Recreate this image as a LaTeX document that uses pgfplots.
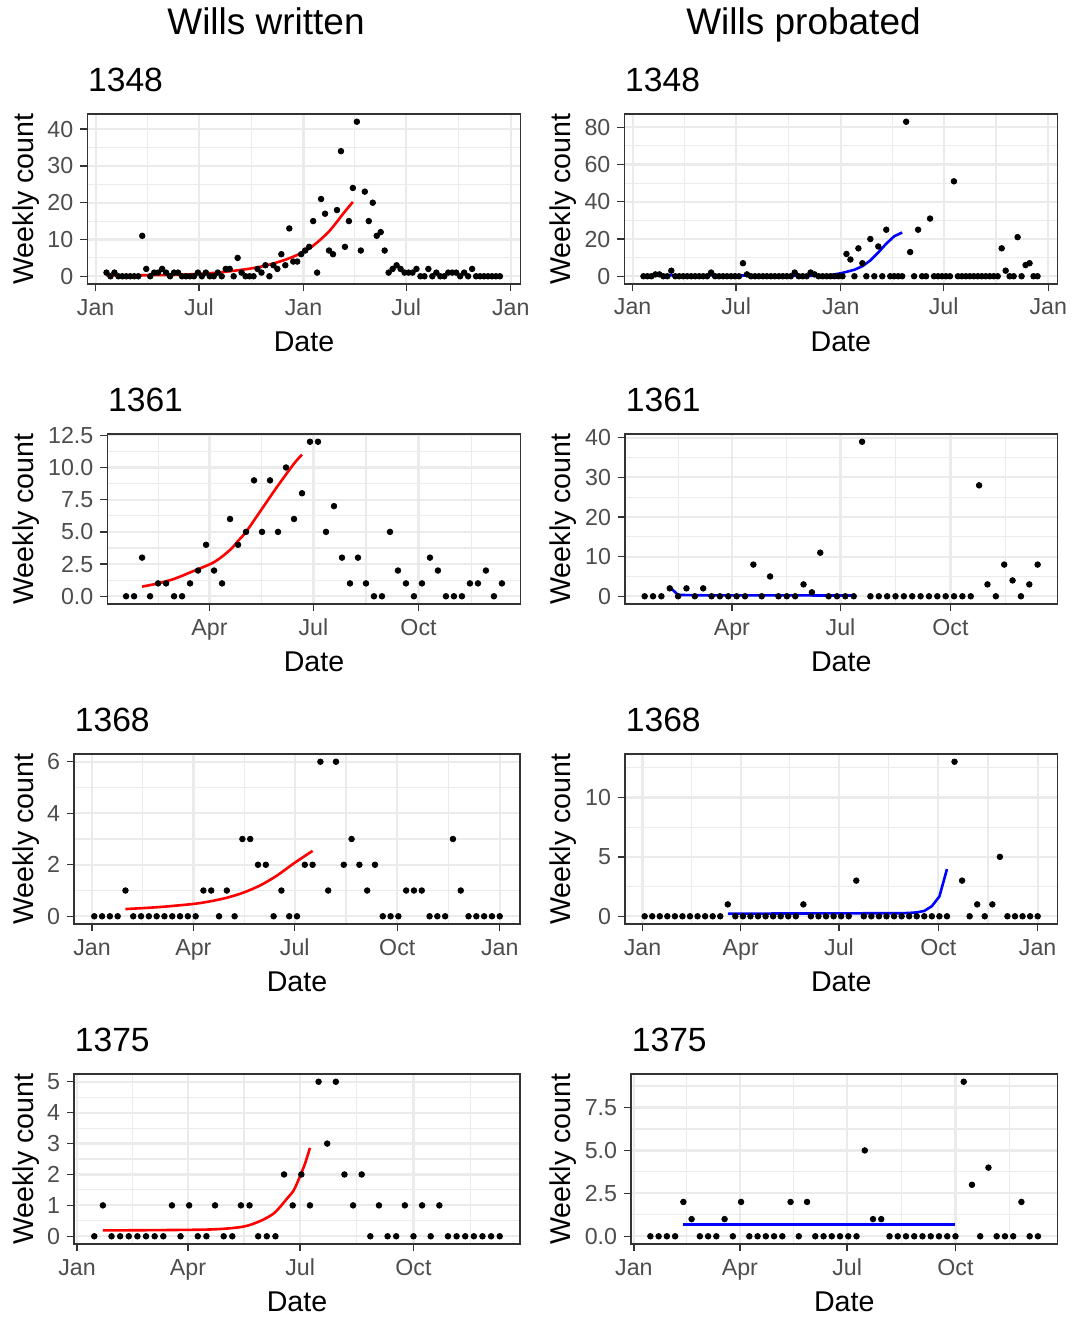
\documentclass[border=0pt]{standalone}
\usepackage{fontspec}
\setmainfont{Liberation Sans}
\usepackage{pgfplots}
\pgfplotsset{compat=1.18}
\definecolor{grey30}{HTML}{4D4D4D}
\definecolor{grey20}{HTML}{333333}
\definecolor{grid92}{HTML}{EBEBEB}
\pgfplotsset{
  panel/.style={
    scale only axis, height=85pt, anchor=north west,
    axis line style={draw=grey20, line width=0.7pt},
    tick align=outside, tick pos=left,
    major tick length=3.6pt, minor tick length=0pt,
    tick style={draw=grey20, line width=0.7pt},
    xmajorgrids=true, ymajorgrids=true, xminorgrids=true, yminorgrids=true,
    major grid style={draw=grid92, line width=1.1pt},
    minor grid style={draw=grid92, line width=0.55pt},
    tick label style={font=\fontsize{11.6}{13}\selectfont, text=grey30, inner sep=0pt},
    xticklabel style={anchor=base, yshift=-11.9pt},
    yticklabel style={anchor=east, xshift=-3.2pt},
    /pgf/number format/assume math mode=true,
  },
  pts/.style={only marks, mark=*, mark size=1.4pt, mark options={fill=black, draw=none}, black},
  fitR/.style={red, line width=1.3pt, no marks},
  fitB/.style={blue, line width=1.3pt, no marks},
}
\begin{document}
\begin{tikzpicture}
\path[use as bounding box] (0,0) rectangle (535.5pt,-658.5pt);

% ---------- Row 1: 1348 ----------
\begin{axis}[panel, at={(43.65pt,-57pt)}, width=216.7pt,
  xmin=-14.8, xmax=748.6, ymin=-2.1, ymax=44.1,
  xtick={0,182,366,547,731}, xticklabels={Jan,Jul,Jan,Jul,Jan},
  minor xtick={91,274,456.5,639},
  ytick={0,10,20,30,40}, yticklabels={0,10,20,30,40},
  minor ytick={5,15,25,35}]
\addplot[pts] coordinates {
(19,1)(26,0)(33,1)(40,0)(47,0)(54,0)(61,0)(68,0)(75,0)(82,11)
(89,2)(96,0)(103,1)(110,1)(117,2)(124,1)(131,0)(138,1)(145,1)(152,0)
(159,0)(166,0)(173,0)(180,1)(187,0)(194,1)(201,0)(208,0)(215,1)(222,0)
(229,2)(236,2)(243,0)(250,5)(257,1)(264,0)(271,0)(278,0)(285,2)(292,1)
(299,3)(306,0)(313,3)(320,2)(327,6)(334,3)(341,13)(348,4)(355,4)(362,6)
(369,7)(376,8)(383,15)(390,1)(397,21)(404,17)(411,7)(418,6)(425,18)(432,34)
(439,8)(446,15)(453,24)(460,42)(467,7)(474,23)(481,15)(488,20)(495,11)(502,12)
(509,7)(516,1)(523,2)(530,3)(537,2)(544,1)(551,1)(558,1)(565,2)(572,0)
(579,0)(586,2)(593,0)(600,1)(607,0)(614,0)(621,1)(628,1)(635,1)(642,0)
(649,1)(656,0)(663,2)(670,0)(677,0)(684,0)(691,0)(698,0)(705,0)(712,0)};
\addplot[fitR, smooth] coordinates {
(19,0.25)(89,0.28)(152,0.45)(208,0.92)(264,1.9)(299,2.9)(334,4.5)(362,6.3)(383,8.3)(411,12.2)(439,17.6)(453,20.2)};
\end{axis}

\begin{axis}[panel, at={(312.15pt,-57pt)}, width=216.5pt,
  xmin=-14.7, xmax=746.8, ymin=-4.15, ymax=87.15,
  xtick={0,182,366,547,731}, xticklabels={Jan,Jul,Jan,Jul,Jan},
  minor xtick={91,274,456.5,639},
  ytick={0,20,40,60,80}, yticklabels={0,20,40,60,80},
  minor ytick={10,30,50,70}]
\addplot[pts] coordinates {
(19,0)(26,0)(33,0)(40,1)(47,1)(54,0)(61,0)(68,3)(75,0)(82,0)
(89,0)(96,0)(103,0)(110,0)(117,0)(124,0)(131,0)(138,2)(145,0)(152,0)
(159,0)(166,0)(173,0)(180,0)(187,0)(194,7)(201,1)(208,0)(215,0)(222,0)
(229,0)(236,0)(243,0)(250,0)(257,0)(264,0)(271,0)(278,0)(285,2)(292,0)
(299,0)(306,0)(313,2)(320,1)(327,0)(334,0)(341,0)(348,0)(355,0)(362,0)
(369,0)(376,12)(383,9)(390,0)(397,15)(404,7)(411,0)(418,20)(425,0)(432,16)
(439,0)(446,25)(453,0)(460,0)(467,0)(474,0)(481,83)(488,13)(495,0)(502,25)
(509,0)(516,0)(523,31)(530,0)(537,0)(544,0)(551,0)(558,0)(565,51)(572,0)
(579,0)(586,0)(593,0)(600,0)(607,0)(614,0)(621,0)(628,0)(635,0)(642,0)
(649,15)(656,3)(663,0)(670,0)(677,21)(684,0)(691,6)(698,7)(705,0)(712,0)};
\addplot[fitB] coordinates {
(40,0.5)(150,0.45)(250,0.35)(300,0.2)(330,0.25)(350,0.7)(369,1.8)(390,3.5)(404,5.4)(418,8.5)(432,12.8)(446,17.5)(460,21.5)(474,23.5)};
\end{axis}

% ---------- Row 2: 1361 ----------
\begin{axis}[panel, at={(53.65pt,-217pt)}, width=206.7pt,
  xmin=0.55, xmax=362.45, ymin=-0.6, ymax=12.6,
  xtick={90,181,273}, xticklabels={Apr,Jul,Oct},
  minor xtick={45,135.5,227,319},
  ytick={0,2.5,5,7.5,10,12.5}, yticklabels={0.0,2.5,5.0,7.5,10.0,12.5},
  minor ytick={1.25,3.75,6.25,8.75,11.25}]
\addplot[pts] coordinates {
(17,0)(24,0)(31,3)(38,0)(45,1)(52,1)(59,0)(66,0)(73,1)(80,2)
(87,4)(94,2)(101,1)(108,6)(115,4)(122,5)(129,9)(136,5)(143,9)(150,5)
(157,10)(164,6)(171,8)(178,12)(185,12)(192,5)(199,7)(206,3)(213,1)(220,3)
(227,1)(234,0)(241,0)(248,5)(255,2)(262,1)(269,0)(276,1)(283,3)(290,2)
(297,0)(304,0)(311,0)(318,1)(325,1)(332,2)(339,0)(346,1)};
\addplot[fitR, smooth] coordinates {
(31,0.75)(45,1.0)(59,1.35)(73,1.85)(94,2.65)(108,3.6)(115,4.3)(122,5.0)(136,6.8)(150,8.6)(164,10.3)(171,11.0)};
\end{axis}

\begin{axis}[panel, at={(312.5pt,-217pt)}, width=216.15pt,
  xmin=0.55, xmax=362.45, ymin=-1.95, ymax=40.95,
  xtick={90,181,273}, xticklabels={Apr,Jul,Oct},
  minor xtick={45,135.5,227,319},
  ytick={0,10,20,30,40}, yticklabels={0,10,20,30,40},
  minor ytick={5,15,25,35}]
\addplot[pts] coordinates {
(17,0)(24,0)(31,0)(38,2)(45,0)(52,2)(59,0)(66,2)(73,0)(80,0)
(87,0)(94,0)(101,0)(108,8)(115,0)(122,5)(129,0)(136,0)(143,0)(150,3)
(157,1)(164,11)(171,0)(178,0)(185,0)(192,0)(199,39)(206,0)(213,0)(220,0)
(227,0)(234,0)(241,0)(248,0)(255,0)(262,0)(269,0)(276,0)(283,0)(290,0)
(297,28)(304,3)(311,0)(318,8)(325,4)(332,0)(339,3)(346,8)};
\addplot[fitB] coordinates {
(38,2.25)(42,1.2)(45,0.35)(60,0.25)(120,0.22)(192,0.2)};
\end{axis}

% ---------- Row 3: 1368 ----------
\begin{axis}[panel, at={(37pt,-377pt)}, width=223pt,
  xmin=-16.2, xmax=384.2, ymin=-0.3, ymax=6.3,
  xtick={0,91,182,274,366}, xticklabels={Jan,Apr,Jul,Oct,Jan},
  minor xtick={45.5,136.5,228,320},
  ytick={0,2,4,6}, yticklabels={0,2,4,6},
  minor ytick={1,3,5}]
\addplot[pts] coordinates {
(2,0)(9,0)(16,0)(23,0)(30,1)(37,0)(44,0)(51,0)(58,0)(65,0)
(72,0)(79,0)(86,0)(93,0)(100,1)(107,1)(114,0)(121,1)(128,0)(135,3)
(142,3)(149,2)(156,2)(163,0)(170,1)(177,0)(184,0)(191,2)(198,2)(205,6)
(212,1)(219,6)(226,2)(233,3)(240,2)(247,1)(254,2)(261,0)(268,0)(275,0)
(282,1)(289,1)(296,1)(303,0)(310,0)(317,0)(324,3)(331,1)(338,0)(345,0)
(352,0)(359,0)(366,0)};
\addplot[fitR, smooth] coordinates {
(30,0.28)(61,0.36)(91,0.48)(106,0.58)(121,0.72)(136,0.92)(151,1.2)(166,1.58)(181,2.05)(198,2.54)};
\end{axis}

\begin{axis}[panel, at={(312.5pt,-377pt)}, width=216.15pt,
  xmin=-16.2, xmax=384.2, ymin=-0.65, ymax=13.65,
  xtick={0,91,182,274,366}, xticklabels={Jan,Apr,Jul,Oct,Jan},
  minor xtick={45.5,136.5,228,320},
  ytick={0,5,10}, yticklabels={0,5,10},
  minor ytick={2.5,7.5,12.5}]
\addplot[pts] coordinates {
(2,0)(9,0)(16,0)(23,0)(30,0)(37,0)(44,0)(51,0)(58,0)(65,0)
(72,0)(79,1)(86,0)(93,0)(100,0)(107,0)(114,0)(121,0)(128,0)(135,0)
(142,0)(149,1)(156,0)(163,0)(170,0)(177,0)(184,0)(191,0)(198,3)(205,0)
(212,0)(219,0)(226,0)(233,0)(240,0)(247,0)(254,0)(261,0)(268,0)(275,0)
(282,0)(289,13)(296,3)(303,0)(310,1)(317,0)(324,1)(331,5)(338,0)(345,0)
(352,0)(359,0)(366,0)};
\addplot[fitB] coordinates {
(79,0.22)(240,0.26)(247,0.28)(254,0.33)(261,0.45)(268,0.85)(275,1.67)(282,3.97)};
\end{axis}

% ---------- Row 4: 1375 ----------
\begin{axis}[panel, at={(37pt,-537pt)}, width=223pt,
  xmin=-2.45, xmax=359.45, ymin=-0.25, ymax=5.25,
  xtick={0,90,181,273}, xticklabels={Jan,Apr,Jul,Oct},
  minor xtick={45,135.5,227,319},
  ytick={0,1,2,3,4,5}, yticklabels={0,1,2,3,4,5},
  minor ytick={0.5,1.5,2.5,3.5,4.5}]
\addplot[pts] coordinates {
(14,0)(21,1)(28,0)(35,0)(42,0)(49,0)(56,0)(63,0)(70,0)(77,1)
(84,0)(91,1)(98,0)(105,0)(112,1)(119,0)(126,0)(133,1)(140,1)(147,0)
(154,0)(161,0)(168,2)(175,1)(182,2)(189,1)(196,5)(203,3)(210,5)(217,2)
(224,1)(231,2)(238,0)(245,1)(252,0)(259,0)(266,1)(273,0)(280,1)(287,0)
(294,1)(301,0)(308,0)(315,0)(322,0)(329,0)(336,0)(343,0)};
\addplot[fitR, smooth] coordinates {
(21,0.19)(68,0.2)(108,0.22)(127,0.27)(138,0.34)(149,0.5)(160,0.75)(170,1.2)(176,1.5)(181,1.95)(185,2.35)(189,2.86)};
\end{axis}

\begin{axis}[panel, at={(315.5pt,-537pt)}, width=213.15pt,
  xmin=-2.45, xmax=359.45, ymin=-0.45, ymax=9.45,
  xtick={0,90,181,273}, xticklabels={Jan,Apr,Jul,Oct},
  minor xtick={45,135.5,227,319},
  ytick={0,2.5,5,7.5}, yticklabels={0.0,2.5,5.0,7.5},
  minor ytick={1.25,3.75,6.25,8.75}]
\addplot[pts] coordinates {
(14,0)(21,0)(28,0)(35,0)(42,2)(49,1)(56,0)(63,0)(70,0)(77,1)
(84,0)(91,2)(98,0)(105,0)(112,0)(119,0)(126,0)(133,2)(140,0)(147,2)
(154,0)(161,0)(168,0)(175,0)(182,0)(189,0)(196,5)(203,1)(210,1)(217,0)
(224,0)(231,0)(238,0)(245,0)(252,0)(259,0)(266,0)(273,0)(280,9)(287,3)
(294,0)(301,4)(308,0)(315,0)(322,0)(329,2)(336,0)(343,0)};
\addplot[fitB] coordinates {(42,0.69)(273,0.69)};
\end{axis}

% ---------- Texts ----------
\begin{scope}[x=0.5pt,y=-0.5pt]
\tikzset{hdr/.style={anchor=base, inner sep=0pt, font=\fontsize{18.5}{20}\selectfont},
  ttl/.style={anchor=base west, inner sep=0pt, font=\fontsize{16.8}{18}\selectfont},
  xl/.style={anchor=base, inner sep=0pt, font=\fontsize{14.3}{16}\selectfont},
  yl/.style={anchor=base, rotate=90, inner sep=0pt, font=\fontsize{14.3}{16}\selectfont}}
\node[hdr] at (266,34) {Wills written};
\node[hdr] at (803.5,34) {Wills probated};
\node[ttl] at (87.8,91.7) {1348};
\node[ttl] at (624.8,91.7) {1348};
\node[ttl] at (107.8,411.7) {1361};
\node[ttl] at (625.5,411.7) {1361};
\node[ttl] at (74.5,731.7) {1368};
\node[ttl] at (625.5,731.7) {1368};
\node[ttl] at (74.5,1051.7) {1375};
\node[ttl] at (631.5,1051.7) {1375};
\node[xl] at (304,351) {Date};
\node[xl] at (840.8,351) {Date};
\node[xl] at (314,671) {Date};
\node[xl] at (841.2,671) {Date};
\node[xl] at (297,991) {Date};
\node[xl] at (841.2,991) {Date};
\node[xl] at (297,1311) {Date};
\node[xl] at (844.2,1311) {Date};
\foreach \yy in {199,519,839,1159}{
  \node[yl] at (33.5,\yy) {Weekly count};
  \node[yl] at (570.5,\yy) {Weekly count};
}
\end{scope}
\end{tikzpicture}
\end{document}
